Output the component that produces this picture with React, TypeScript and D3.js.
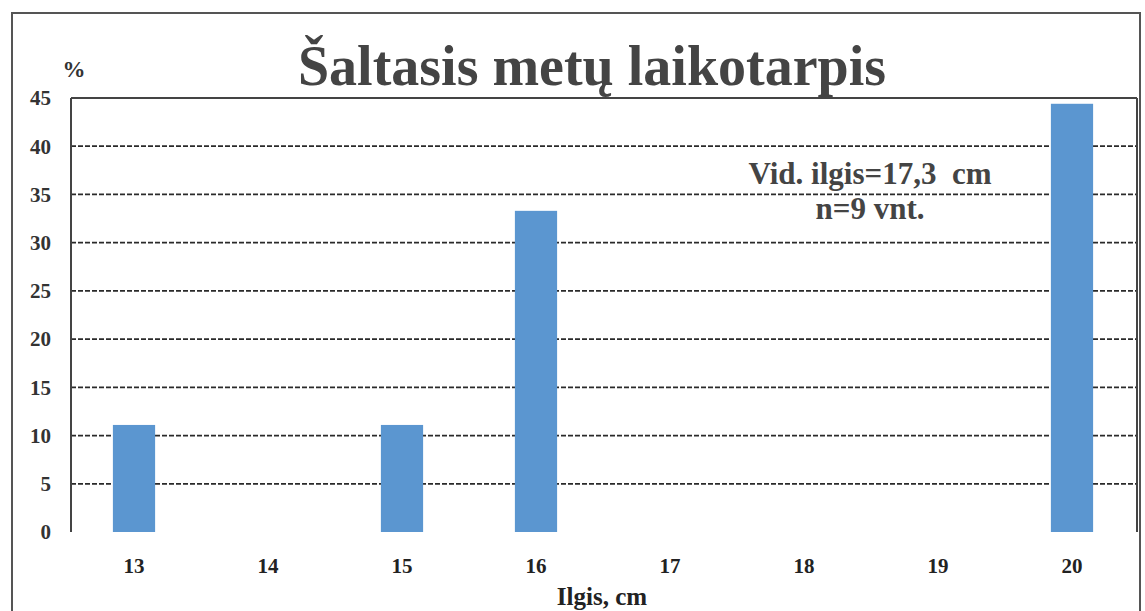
import React from 'react'
import * as d3 from 'd3'

// duomenys
const lengths = ['13', '14', '15', '16', '17', '18', '19', '20']
const percents = [11.1, 0, 11.1, 33.3, 0, 0, 0, 44.4]
const yTicks = [0, 5, 10, 15, 20, 25, 30, 35, 40, 45]
const title = 'Šaltasis metų laikotarpis'
const noteLines = ['Vid. ilgis=17,3  cm', 'n=9 vnt.']

const W = 1145
const H = 611
const font = 'Liberation Serif, DejaVu Serif, serif'

const txt = (size: number, color: string) => ({
  fontFamily: font,
  fontWeight: 'bold' as const,
  fontSize: size + 'px',
  fill: color,
  whiteSpace: 'pre' as const
})

const App = () => {
  const x = d3.scaleBand().domain(lengths).range([67, 1139]).padding(0)
  const y = d3.scaleLinear().domain([0, 45]).range([532, 98])
  const barW = x.bandwidth() * 0.315
  const plotLeft = 71
  const plotRight = 1137

  return (
    <svg
      width={W}
      height={H}
      style={{ position: 'absolute', left: 0, top: 0, background: '#fff' }}
    >
      {/* išorinis rėmelis */}
      <rect x={12} y={13} width={1128} height={620} fill="none" stroke="#555" strokeWidth={2} />

      {/* tinklelis */}
      {yTicks
        .filter((t) => t > 0 && t < 45)
        .map((t) => (
          <line
            key={'g' + t}
            x1={plotLeft}
            x2={plotRight}
            y1={y(t)}
            y2={y(t)}
            stroke="#2a2a2a"
            strokeWidth={1.8}
            strokeDasharray="5,2"
          />
        ))}

      {/* stulpeliai */}
      {lengths.map((d, i) =>
        percents[i] > 0 ? (
          <rect
            key={'b' + d}
            x={x(d)! + x.bandwidth() / 2 - barW / 2}
            y={y(percents[i])}
            width={barW}
            height={y(0) - y(percents[i])}
            fill="#5b96d0"
          />
        ) : null
      )}

      {/* ašys */}
      <line x1={plotLeft} x2={plotRight} y1={y(45)} y2={y(45)} stroke="#444" strokeWidth={2} />
      <line x1={plotLeft} x2={plotLeft} y1={y(45)} y2={y(0)} stroke="#444" strokeWidth={2} />
      <line x1={plotRight} x2={plotRight} y1={y(45)} y2={y(0)} stroke="#444" strokeWidth={2} />

      {yTicks.map((t) => (
        <text key={'yt' + t} x={51} y={y(t)} dy="0.35em" textAnchor="end" style={txt(21, '#333')}>
          {t}
        </text>
      ))}

      {lengths.map((d) => (
        <text
          key={'xt' + d}
          x={x(d)! + x.bandwidth() / 2}
          y={573}
          textAnchor="middle"
          style={txt(21, '#222')}
        >
          {d}
        </text>
      ))}

      <text x={74} y={77} textAnchor="middle" style={txt(23, '#333')}>
        %
      </text>

      <text x={592} y={85} textAnchor="middle" style={txt(56, '#444')}>
        {title}
      </text>

      {noteLines.map((s, i) => (
        <text key={'n' + i} x={870} y={184 + i * 35} textAnchor="middle" style={txt(31, '#444')}>
          {s}
        </text>
      ))}

      <text x={602} y={605} textAnchor="middle" style={txt(25, '#222')}>
        Ilgis, cm
      </text>
    </svg>
  )
}

export default App
